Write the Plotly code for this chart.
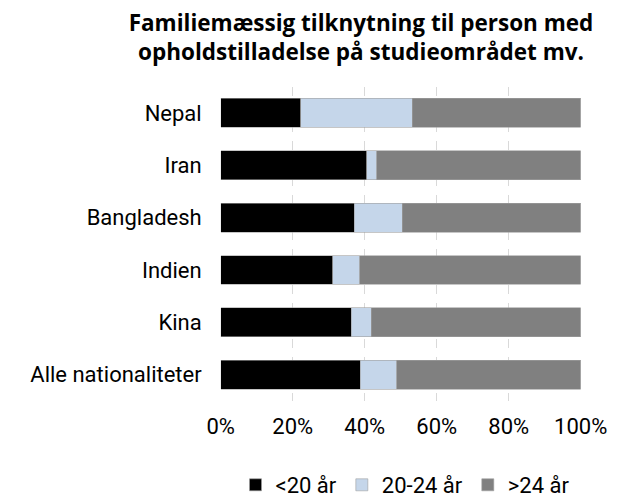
import plotly.graph_objects as go

categories = ["Nepal", "Iran", "Bangladesh", "Indien", "Kina", "Alle nationaliteter"]
under20 = [0.223, 0.406, 0.371, 0.311, 0.362, 0.387]
age20_24 = [0.309, 0.028, 0.133, 0.075, 0.056, 0.102]
over24 = [round(1 - a - b, 3) for a, b in zip(under20, age20_24)]
series_names = ["<20 år", "20-24 år", ">24 år"]
colors = ["#000000", "#c5d6ea", "#808080"]
xticks = [0, 0.2, 0.4, 0.6, 0.8, 1.0]
xticklabels = ["0%", "20%", "40%", "60%", "80%", "100%"]

W, H = 617, 498
OFF = 8  # default page body margin
FONT = "Roboto"

fig = go.Figure()
for name, vals, col in zip(series_names, [under20, age20_24, over24], colors):
    fig.add_trace(go.Bar(
        y=categories, x=vals, name=name, orientation="h",
        marker=dict(color=col, line=dict(color="#a0a0a0", width=0.6)),
        width=0.55,
    ))

pl, pr, pt, pb = 220.7 - OFF, 580.7 - OFF, 87.3 - OFF, 404.1 - OFF
fig.update_layout(
    width=W, height=H,
    barmode="stack",
    paper_bgcolor="white", plot_bgcolor="white",
    margin=dict(l=0, r=0, t=0, b=0),
    font=dict(family=FONT, size=22, color="#000000"),
    title=dict(
        text="<b>Familiemæssig tilknytning til person med<br>opholdstilladelse på studieområdet mv.</b>",
        x=(361 - OFF) / W, xanchor="center", xref="paper",
        y=1 - 23 / H, yanchor="middle", yref="container",
        font=dict(family="Open Sans", size=22.5, color="#000000"),
    ),
    xaxis=dict(
        domain=[pl / W, pr / W], range=[0, 1], automargin=False,
        tickvals=xticks, ticktext=xticklabels,
        showgrid=True, gridcolor="#d9d9d9", griddash="dash", gridwidth=1,
        zeroline=False, showline=False, ticks="", ticklen=0,
        tickfont=dict(size=22), ticklabelstandoff=10,
    ),
    yaxis=dict(
        domain=[1 - pb / H, 1 - pt / H], automargin=False,
        categoryorder="array", categoryarray=categories[::-1],
        showgrid=False, zeroline=False, showline=False, ticks="",
        ticklen=0, tickfont=dict(size=22), ticklabelstandoff=18,
    ),
    legend=dict(
        orientation="h", x=(405 - OFF) / W, xanchor="center",
        y=1 - (489 - OFF) / H, yanchor="middle",
        font=dict(size=22), traceorder="normal",
        itemwidth=30,
    ),
    showlegend=True,
)
fig.write_html("out.html")
